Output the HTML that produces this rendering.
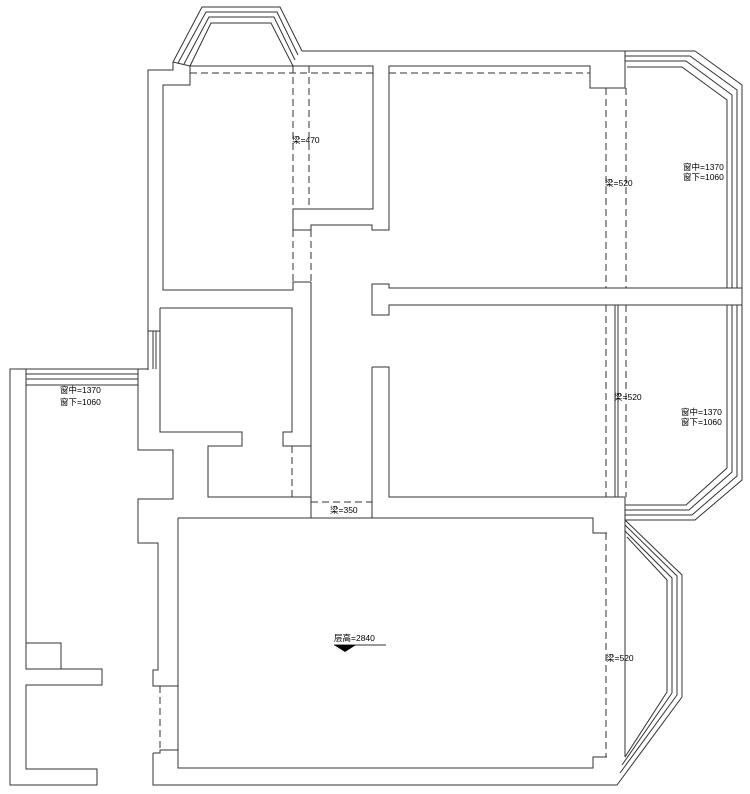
<!DOCTYPE html>
<html><head><meta charset="utf-8"><style>
html,body{margin:0;padding:0;background:#fff;}
svg{display:block}
text{font-family:"Liberation Sans","Noto Sans CJK SC",sans-serif;font-size:8.5px;fill:#000}
</style></head><body>
<svg width="750" height="794" viewBox="0 0 750 794" xmlns="http://www.w3.org/2000/svg">
<g fill="none" stroke="#333" stroke-width="1">
<!-- top bay window -->
<polyline points="173,62 202,7 280,7 302,51"/>
<polyline points="178,63 206,12 277,12 298,55"/>
<polyline points="184,64 209,17 274,17 295,60"/>
<polyline points="190,66 211,23 271,23 293,66"/>
<line x1="173" y1="62" x2="190" y2="66"/>
<!-- top wall -->
<line x1="302" y1="51" x2="695" y2="51"/>
<polyline points="173,62 173,70 148,70 148,370"/>
<polyline points="190,66 373,66 373,209 293,209 293,230"/>
<polyline points="190,66 190,85 163,85 163,290 293,290 293,282 311,282"/>
<polyline points="311,230 311,225 372,225 372,230 389,230 389,66 590,66 590,88 625,88 625,51"/>
<line x1="293" y1="230" x2="311" y2="230"/>
<line x1="311" y1="282" x2="311" y2="518"/>
<!-- right top bay -->
<polyline points="695,51 742,85 742,288"/>
<polyline points="625,56 690,56 737,90 737,288"/>
<polyline points="625,61 686,61 732,95 732,288"/>
<polyline points="627,67 682,67 727,100 727,288"/>
<!-- horizontal band -->
<polyline points="742,288 389,288 389,284 372,284 372,315 389,315 389,305 742,305 742,288"/>
<!-- right lower bay -->
<polyline points="742,305 742,480 695,520 625,520"/>
<polyline points="737,305 737,476 692,515 625,515"/>
<polyline points="732,305 732,472 689,510 625,510"/>
<polyline points="727,305 727,468 686,505 625,505"/>
<line x1="625" y1="497" x2="625" y2="537"/>
<line x1="615" y1="305" x2="615" y2="497"/>
<line x1="618" y1="305" x2="618" y2="497"/>
<!-- lower right room -->
<polyline points="372,367 389,367 389,497 625,497"/>
<line x1="372" y1="367" x2="372" y2="518"/>
<!-- living room -->
<polyline points="178,518 593,518 593,533 607,533"/>
<polyline points="178,518 178,768 593,768 593,757 607,757"/>
<line x1="625" y1="537" x2="625" y2="757"/>
<polyline points="153,753 153,785 617,785"/>
<polyline points="153,753 160,753 160,750 178,750"/>
<!-- living bay -->
<polyline points="625,520 682,575 682,697 617,785"/>
<polyline points="625,525 677,576 677,695 620,773"/>
<polyline points="625,531 672,578 672,693 622,765"/>
<polyline points="627,537 667,580 667,692 625,757"/>
<!-- middle rooms -->
<polyline points="160,308 292,308 292,432 283,432 283,446 311,446"/>
<polyline points="160,308 160,432 242,432 242,446 208,446 208,497 311,497"/>
<line x1="153" y1="331" x2="153" y2="369"/>
<line x1="156" y1="331" x2="156" y2="369"/>
<line x1="148" y1="331" x2="160" y2="331"/>
<!-- left wall stepping -->
<polyline points="148,369 138,369 138,450 173,450 173,499 138,499 138,543 158,543 158,670 153,670 153,686 178,686"/>
<!-- left balcony -->
<polyline points="138,369 10,369 10,785 97,785 97,769 26,769 26,685 102,685 102,669 26,669 26,385"/>
<line x1="26" y1="374" x2="138" y2="374"/>
<line x1="26" y1="379" x2="138" y2="379"/>
<line x1="26" y1="385" x2="138" y2="385"/>
<line x1="26" y1="369" x2="26" y2="385"/>
<polyline points="26,643 61,643 61,669"/>
</g>
<g fill="none" stroke="#333" stroke-width="1" stroke-dasharray="7,4">
<line x1="190" y1="73" x2="373" y2="73"/>
<line x1="389" y1="73" x2="590" y2="73"/>
<line x1="293" y1="66" x2="293" y2="209"/>
<line x1="309" y1="66" x2="309" y2="209"/>
<line x1="293" y1="230" x2="293" y2="282"/>
<line x1="311" y1="230" x2="311" y2="282"/>
<line x1="606" y1="88" x2="606" y2="288"/>
<line x1="626" y1="88" x2="626" y2="288"/>
<line x1="606" y1="305" x2="606" y2="497"/>
<line x1="626" y1="305" x2="626" y2="497"/>
<line x1="606" y1="533" x2="606" y2="757"/>
<line x1="625" y1="537" x2="625" y2="757"/>
<line x1="292" y1="446" x2="292" y2="497"/>
<line x1="311" y1="502" x2="372" y2="502"/>
<line x1="311" y1="518" x2="372" y2="518"/>
<line x1="160" y1="686" x2="160" y2="753"/>
</g>
<text x="292" y="143">梁=470</text>
<text x="605" y="186">梁=520</text>
<text x="683" y="170">窗中=1370</text>
<text x="683" y="180">窗下=1060</text>
<text x="614" y="400">梁=520</text>
<text x="681" y="415">窗中=1370</text>
<text x="681" y="425">窗下=1060</text>
<text x="60" y="393">窗中=1370</text>
<text x="60" y="405">窗下=1060</text>
<text x="330" y="513">梁=350</text>
<text x="334" y="641">层高=2840</text>
<line x1="334" y1="645" x2="386" y2="645" stroke="#333"/>
<polygon points="334,645 356,645 345,652" fill="#000"/>
<text x="606" y="661">梁=520</text>
</svg>
</body></html>
